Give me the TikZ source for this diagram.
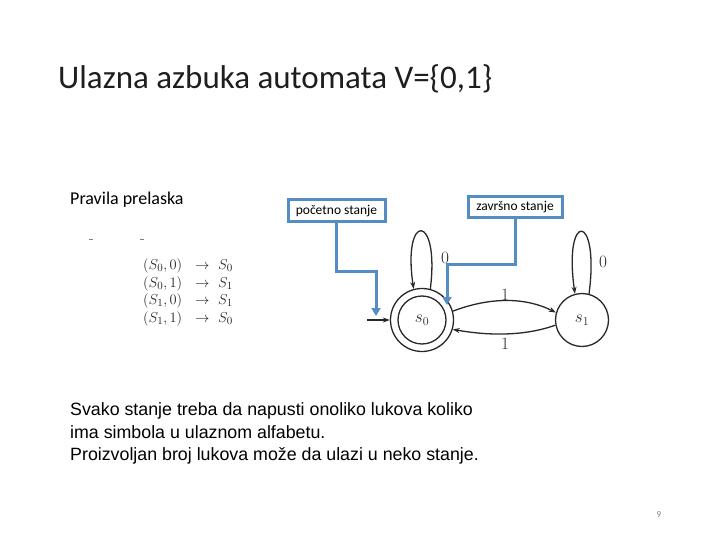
\documentclass[tikz,border=0pt]{standalone}
\usepackage[no-math]{fontspec}
\setmainfont{Carlito}
\newfontfamily\arialfont{Liberation Sans}
\usetikzlibrary{arrows.meta}
\definecolor{boxblue}{RGB}{84,141,196}
\definecolor{scan}{RGB}{40,40,40}
\definecolor{tabgray}{RGB}{35,35,35}
\begin{document}
\begin{tikzpicture}[x=1pt,y=-1pt,
  bluebox/.style={draw=boxblue, line width=3pt, fill=white, minimum width=#1, minimum height=21pt, inner sep=0pt, font=\fontsize{13.5}{15}\selectfont},
  blueline/.style={draw=boxblue, line width=3pt, -{Triangle[length=8pt,width=9pt]}},
  graphline/.style={draw=scan, line width=1.3pt},
  garrow/.style={graphline, -{Stealth[length=7pt,width=5pt]}},
  tab/.style={anchor=base west, inner sep=0pt, text=tabgray, font=\fontsize{15.5}{18}\selectfont},
  glabel/.style={inner sep=0pt, text=scan, font=\fontsize{18}{20}\selectfont},
  body/.style={anchor=base west, inner sep=0pt, font=\arialfont\fontsize{17.8}{20}\selectfont}
]
\useasboundingbox (0,0) rectangle (720,540);

% title
\node[anchor=base west, inner sep=0pt, text={rgb,255:red,30;green,30;blue,30}, font=\fontsize{33}{38}\selectfont] (title) at (58,89) {Ulazna azbuka automata V=\{0,1\}};

\node[anchor=base west, inner sep=0pt, font=\fontsize{18}{20}\selectfont] (pravila) at (70,205) {Pravila prelaska};

\draw[gray, line width=0.8pt] (89,239) -- (93,239);
\draw[gray, line width=0.8pt] (140,239) -- (144,239);

% transition table
\node[tab] (l1) at (143,269) {$(S_0,0)$};
\node[tab] (a1) at (195,269) {$\rightarrow$};
\node[tab] (r1) at (218,269) {$S_0$};
\node[tab] (l2) at (143,287) {$(S_0,1)$};
\node[tab] (a2) at (195,287) {$\rightarrow$};
\node[tab] (r2) at (218,287) {$S_1$};
\node[tab] (l3) at (143,304) {$(S_1,0)$};
\node[tab] (a3) at (195,304) {$\rightarrow$};
\node[tab] (r3) at (218,304) {$S_1$};
\node[tab] (l4) at (143,322) {$(S_1,1)$};
\node[tab] (a4) at (195,322) {$\rightarrow$};
\node[tab] (r4) at (218,322) {$S_0$};

% automaton
\node[circle, graphline, minimum size=63pt, inner sep=0pt] (s0) at (422,320) {};
\node[circle, graphline, minimum size=48pt, inner sep=0pt, font=\fontsize{18}{20}\selectfont, text=scan] (s0in) at (422,320) {$s_0$};
\node[circle, graphline, minimum size=53pt, inner sep=0pt, font=\fontsize{18}{20}\selectfont, text=scan] (s1) at (582,320) {$s_1$};

\draw[garrow] (s0.75) .. controls (440,212) and (402,212) .. (s0.105);
\draw[garrow] (s1.75) .. controls (600,211) and (563,211) .. (s1.105);
\node[glabel] (lab0a) at (445,258) {$0$};
\node[glabel] (lab0b) at (603,262) {$0$};

\draw[garrow] (s0.16) .. controls (490,297) and (525,297) .. (s1.164);
\draw[garrow] (s1.191) .. controls (525,336) and (490,336) .. (s0.-17);
\node[glabel] (lab1a) at (505,295) {$1$};
\node[glabel] (lab1b) at (505,344) {$1$};

\coordinate (init) at (367,320);
\draw[garrow] (init) -- (s0.west);

% callout boxes
\node[bluebox=97pt, minimum height=22pt] (pbox) at (336.5,211) {početno stanje};
\node[bluebox=94pt] (zbox) at (515,207.5) {završno stanje};
\coordinate (pend) at (376,316);
\coordinate (zend) at (447,305);
\draw[blueline] (pbox.south) -- ++(0,48) -| (pend);
\draw[blueline] (zbox.south) -- ++(0,44.5) -| (zend);

% body text
\node[body] (t1) at (70,415) {Svako stanje treba da napusti onoliko lukova koliko};
\node[body] (t2) at (70,438) {ima simbola u ulaznom alfabetu.};
\node[body] (t3) at (70,460) {Proizvoljan broj lukova može da ulazi u neko stanje.};

\node[inner sep=0pt, text=gray, font=\fontsize{9}{10}\selectfont] (pnum) at (659,515) {9};
\end{tikzpicture}
\end{document}
